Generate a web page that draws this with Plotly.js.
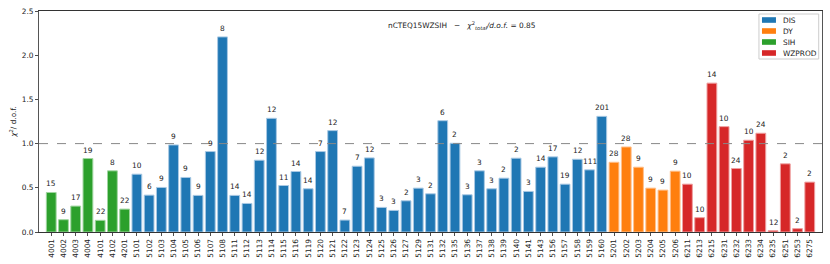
<!DOCTYPE html>
<html>
<head>
<meta charset="utf-8">
<script src="https://cdn.plot.ly/plotly-3.0.1.min.js"></script>
<style>html,body{margin:0;padding:0;background:#fff;}#chart{width:830px;height:264px;}</style>
</head>
<body>
<div id="chart"></div>
<script>
// category order as drawn
const categories = ["4001","4002","4003","4004","4101","4102","4201",
  "5101","5102","5103","5104","5105","5106","5107","5108","5111","5112","5113","5114","5115","5116","5119","5120","5121","5122","5123","5124","5125","5126","5127","5129","5131","5132","5135","5136","5137","5138","5139","5140","5141","5143","5156","5157","5158","5159","5160",
  "5201","5202","5203","5204","5205","5206",
  "6211","6213","6215","6231","6232","6233","6234","6235","6251","6253","6275"];

const sihIds = ["4001","4002","4003","4004","4101","4102","4201"];
const sihChi = [0.447,0.139,0.293,0.831,0.132,0.692,0.259];
const sihN = [15,9,17,19,22,8,22];

const disIds = ["5101","5102","5103","5104","5105","5106","5107","5108","5111","5112","5113","5114","5115","5116","5119","5120","5121","5122","5123","5124","5125","5126","5127","5129","5131","5132","5135","5136","5137","5138","5139","5140","5141","5143","5156","5157","5158","5159","5160"];
const disChi = [0.654,0.417,0.504,0.985,0.617,0.414,0.910,2.207,0.414,0.323,0.812,1.286,0.526,0.684,0.489,0.910,1.147,0.135,0.744,0.838,0.278,0.244,0.353,0.496,0.432,1.259,1.004,0.421,0.692,0.489,0.609,0.835,0.459,0.733,0.850,0.541,0.823,0.703,1.308];
const disN = [10,6,9,9,9,9,9,8,14,14,12,12,11,14,14,7,12,7,7,12,3,3,2,3,2,6,2,3,3,3,2,2,3,14,17,19,12,111,201];

const dyIds = ["5201","5202","5203","5204","5205","5206"];
const dyChi = [0.789,0.962,0.733,0.496,0.474,0.688];
const dyN = [28,28,9,9,9,9];

const wzIds = ["6211","6213","6215","6231","6232","6233","6234","6235","6251","6253","6275"];
const wzChi = [0.541,0.162,1.684,1.192,0.718,1.038,1.117,0.015,0.771,0.038,0.564];
const wzN = [10,10,14,10,24,10,24,12,2,2,2];

const groupNames = ["DIS","DY","SIH","WZPROD"];
const groupColors = ["#1f77b4","#ff7f0e","#2ca02c","#d62728"];
const groupEdges = ["#a9c9e4","#ffc08c","#9fd59f","#ee9e9f"];

const totalChi = "0.85";
const refLine = 1.0;

const FONT = "DejaVu Sans, sans-serif";
const FS = 7.4;

const groups = [[disIds, disChi, disN],[dyIds, dyChi, dyN],[sihIds, sihChi, sihN],[wzIds, wzChi, wzN]];

const traces = groups.map((g, k) => ({
  type:"bar", name:groupNames[k], x:g[0], y:g[1],
  marker:{color:groupColors[k], line:{color:groupEdges[k], width:1}},
  hoverinfo:"skip", showlegend:false
}));

const annotations = [];
groups.forEach(g => {
  g[0].forEach((id, i) => annotations.push({
    x:categories.indexOf(id), y:g[1][i], xref:"x", yref:"y", text:String(g[2][i]),
    showarrow:false, yanchor:"bottom", yshift:2,
    font:{family:FONT, size:FS, color:"#222"}
  }));
});

annotations.push({
  xref:"paper", yref:"paper", x:0.54, y:0.933, xanchor:"center", yanchor:"middle",
  showarrow:false,
  text:"nCTEQ15WZSIH   \u2212   <i>\u03c7</i><sup>2</sup><sub><i>total</i></sub><i>/d.o.f.</i> = " + totalChi,
  font:{family:FONT, size:FS, color:"#222"}
});

// compact legend (matplotlib-style) drawn in paper coordinates
const shapes = [{type:"line", xref:"paper", yref:"y", x0:0, x1:1, y0:refLine, y1:refLine,
    line:{color:"#888", width:1, dash:"dash"}}];
const plotW = 783, plotH = 221;
const lgX0 = 0.9195, lgX1 = 0.9958, lgY1 = 0.9864, lgY0 = 0.7828;
shapes.push({type:"rect", xref:"paper", yref:"paper", x0:lgX0, x1:lgX1, y0:lgY0, y1:lgY1,
  line:{color:"#cccccc", width:1}, fillcolor:"rgba(255,255,255,0.85)", layer:"above"});
groupNames.forEach((nm, k) => {
  const yc = lgY1 - (6 + 11*k)/plotH;
  shapes.push({type:"rect", xref:"paper", yref:"paper",
    x0:lgX0 + 3/plotW, x1:lgX0 + 17/plotW, y0:yc - 2.8/plotH, y1:yc + 2.8/plotH,
    line:{width:0}, fillcolor:groupColors[k], layer:"above"});
  annotations.push({xref:"paper", yref:"paper", x:lgX0 + 22/plotW, y:yc, xanchor:"left", yanchor:"middle",
    showarrow:false, text:nm, font:{family:FONT, size:FS, color:"#222"}});
});

const layout = {
  width:830, height:264,
  margin:{l:39, r:8, t:11, b:32, pad:0},
  paper_bgcolor:"#fff", plot_bgcolor:"#fff",
  barmode:"overlay", bargap:0.2,
  font:{family:FONT, size:FS, color:"#222"},
  xaxis:{
    type:"category", categoryorder:"array", categoryarray:categories,
    range:[-1, categories.length],
    tickangle:-90, tickfont:{family:FONT, size:FS, color:"#222"},
    ticks:"outside", ticklen:3, tickwidth:0.8, tickcolor:"#222",
    showline:true, linecolor:"#333", linewidth:1, mirror:true,
    showgrid:false, zeroline:false, automargin:false
  },
  yaxis:{
    range:[0, 2.5], tickvals:[0,0.5,1,1.5,2,2.5],
    ticktext:["0.0","0.5","1.0","1.5","2.0","2.5"],
    tickfont:{family:FONT, size:FS, color:"#222"},
    ticks:"outside", ticklen:3, tickwidth:0.8, tickcolor:"#222",
    showline:true, linecolor:"#555", linewidth:1, mirror:true,
    showgrid:false, zeroline:false, automargin:false,
    title:{text:"<i>\u03c7</i><sup>2</sup>/ d.o.f.", font:{family:FONT, size:FS, color:"#222"}, standoff:4}
  },
  shapes:shapes,
  annotations:annotations,
  showlegend:false
};

Plotly.newPlot("chart", traces, layout, {staticPlot:true, displayModeBar:false});
</script>
</body>
</html>
